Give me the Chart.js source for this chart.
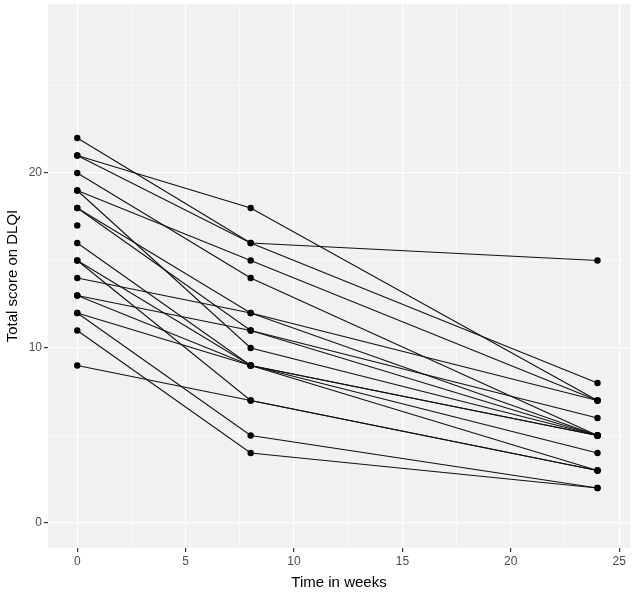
<!DOCTYPE html>
<html>
<head>
<meta charset="utf-8">
<script src="https://cdn.jsdelivr.net/npm/chart.js@4.4.1/dist/chart.umd.min.js"></script>
<style>
  html, body { margin: 0; padding: 0; background: #fff; }
  #wrap { width: 634px; height: 607px; }
</style>
</head>
<body>
<div id="wrap"><canvas id="dlqi" width="634" height="607"></canvas></div>
<script>
// one entry per patient: DLQI total at week 0, week 8 and week 24
var weeks = [0, 8, 24];
var scoreWeek0  = [22, 21, 21, 20, 19, 19, 18, 18, 17, 16, 15, 15, 14, 13, 13, 12, 12, 11, 9];
var scoreWeek8  = [16, 16, 18, 14, 15, 10, 12, 11, null, 9, 9, 7, 12, 11, 9, 9, 5, 4, 7];
var scoreWeek24 = [8, 15, 7, 5, 7, 5, 7, 6, null, 5, 5, 3, 5, 5, 4, 3, 2, 2, 3];

var xTicks = [0, 2.5, 5, 7.5, 10, 12.5, 15, 17.5, 20, 22.5, 25];
var yTicks = [0, 5, 10, 15, 20, 25];

var datasets = scoreWeek0.map(function (s0, i) {
    var values = [s0, scoreWeek8[i], scoreWeek24[i]];
    return {
        data: weeks.map(function (w, j) { return { x: w, y: values[j] }; }),
        borderColor: '#111',
        borderWidth: 1.1,
        pointRadius: 3.2,
        pointBackgroundColor: '#000',
        pointBorderColor: '#000',
        pointBorderWidth: 0,
        showLine: true,
        spanGaps: false
    };
});

// grey ggplot panel
var panelBg = {
    id: 'panelBg',
    beforeDraw: function (chart) {
        var a = chart.chartArea, c = chart.ctx;
        c.save();
        c.fillStyle = '#f1f1f1';
        c.fillRect(a.left, a.top, a.right - a.left, a.bottom - a.top);
        c.restore();
    }
};

function isMajor(v, step) { return Math.abs(v / step - Math.round(v / step)) < 1e-6; }

var ctx = document.getElementById('dlqi').getContext('2d');
var chart = new Chart(ctx, {
    type: 'scatter',
    data: { datasets: datasets },
    plugins: [panelBg],
    options: {
        responsive: false,
        animation: false,
        layout: { padding: { left: 0, right: 2, top: 0, bottom: 0 } },
        plugins: { legend: { display: false }, tooltip: { enabled: false } },
        scales: {
            x: {
                type: 'linear',
                min: -1.35,
                max: 25.5,
                afterBuildTicks: function (scale) {
                    scale.ticks = xTicks.map(function (v) { return { value: v }; });
                },
                afterFit: function (scale) {
                    scale.height = 59;
                    scale.paddingLeft = 0;
                    scale.paddingRight = 0;
                },
                border: { display: false },
                grid: {
                    color: '#ffffff',
                    lineWidth: function (c) { return isMajor(c.tick.value, 5) ? 1.2 : 0.6; },
                    tickColor: function (c) { return isMajor(c.tick.value, 5) ? '#333' : 'rgba(0,0,0,0)'; },
                    tickLength: 4
                },
                ticks: {
                    autoSkip: false,
                    maxRotation: 0,
                    padding: 2,
                    color: '#4d4d4d',
                    font: { family: 'Liberation Sans', size: 12 },
                    callback: function (v) { return isMajor(v, 5) ? String(v) : ''; }
                },
                title: {
                    display: true,
                    text: 'Time in weeks',
                    color: '#000',
                    font: { family: 'Liberation Sans', size: 15 },
                    padding: { top: 2, bottom: 15 }
                }
            },
            y: {
                type: 'linear',
                min: -1.43,
                max: 29.66,
                afterBuildTicks: function (scale) {
                    scale.ticks = yTicks.map(function (v) { return { value: v }; });
                },
                afterFit: function (scale) {
                    scale.width = 48;
                    scale.paddingTop = 0;
                    scale.paddingBottom = 0;
                },
                border: { display: false },
                grid: {
                    color: '#ffffff',
                    lineWidth: function (c) { return isMajor(c.tick.value, 10) ? 1.2 : 0.6; },
                    tickColor: function (c) { return isMajor(c.tick.value, 10) ? '#333' : 'rgba(0,0,0,0)'; },
                    tickLength: 4
                },
                ticks: {
                    autoSkip: false,
                    padding: 2,
                    color: '#4d4d4d',
                    font: { family: 'Liberation Sans', size: 12 },
                    callback: function (v) { return isMajor(v, 10) ? String(v) : ''; }
                },
                title: {
                    display: true,
                    text: 'Total score on DLQI',
                    color: '#000',
                    font: { family: 'Liberation Sans', size: 15 },
                    padding: { top: 4, bottom: 2 }
                }
            }
        }
    }
});
</script>
</body>
</html>
